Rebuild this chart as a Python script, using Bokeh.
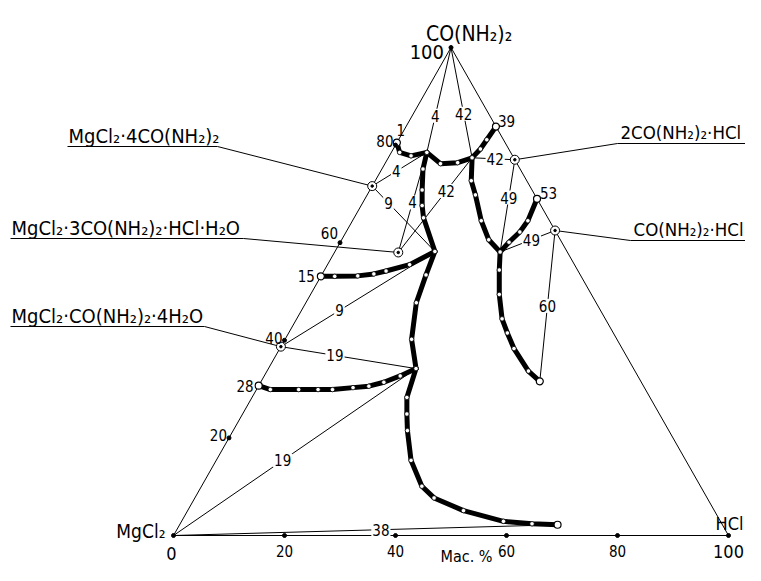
from bokeh.plotting import figure
from bokeh.models import Range1d
from bokeh.embed import file_html
from bokeh.resources import INLINE
from bokeh.core.properties import value

# ------------------------------------------------------------------
# DATA  (composition, mass %: HCl and CO(NH2)2; MgCl2 is the remainder)
# ------------------------------------------------------------------
tick_values = [20, 40, 60, 80]

# end / special points of the solubility branches
P1 = (0.0, 80.5)
P39 = (16.2, 83.8)
P15 = (0.0, 53.1)
P28 = (0.0, 30.7)
P53 = (31.0, 69.0)
P38 = (68.1, 2.2)
P60 = (50.2, 31.6)
# invariant (eutonic) points
E4 = (6.4, 78.5)
E42 = (15.1, 77.4)
E9 = (18.0, 58.2)
E19 = (26.6, 34.2)
E49 = (29.8, 58.1)

# solubility branches
br_1_4_hcl = [0.0, 1.5, 3.9, 6.4]
br_1_4_urea = [80.5, 78.5, 77.8, 78.5]
br_4_42_hcl = [6.4, 10.0, 13.0, 15.1]
br_4_42_urea = [78.5, 76.2, 76.4, 77.4]
br_42_39_hcl = [15.1, 15.7, 15.9, 16.2]
br_42_39_urea = [77.4, 79.2, 81.1, 83.8]
br_4_9_hcl = [6.4, 7.4, 9.4, 11.0, 12.5, 18.0]
br_4_9_urea = [78.5, 75.1, 70.8, 67.6, 65.1, 58.2]
br_15_9_hcl = [0.0, 2.5, 6.6, 9.3, 11.2, 14.8, 18.0]
br_15_9_urea = [53.1, 53.1, 53.2, 53.6, 54.2, 55.5, 58.2]
br_9_19_hcl = [18.0, 18.8, 19.9, 22.8, 26.6]
br_9_19_urea = [58.2, 53.4, 47.7, 40.2, 34.2]
br_28_19_hcl = [0.0, 2.5, 7.6, 11.1, 13.7, 17.2, 19.9, 22.2, 24.5, 26.6]
br_28_19_urea = [30.7, 29.9, 29.9, 29.9, 29.9, 30.3, 30.6, 31.4, 32.7, 34.2]
br_19_38_hcl = [26.6, 27.9, 29.6, 31.4, 35.1, 39.7, 43.1, 49.7, 58.0, 63.4, 68.1]
br_19_38_urea = [34.2, 28.3, 24.9, 21.5, 15.4, 10.1, 7.7, 5.1, 2.9, 2.4, 2.2]
br_42_49_hcl = [15.1, 17.3, 19.5, 23.2, 26.5, 29.8]
br_42_49_urea = [77.4, 72.7, 69.8, 64.5, 60.6, 58.1]
br_53_49_hcl = [31.0, 31.6, 31.3, 30.4, 29.8]
br_53_49_urea = [69.0, 64.5, 62.2, 60.1, 58.1]
br_49_60_hcl = [29.8, 31.5, 34.0, 37.0, 39.4, 42.2, 47.1, 50.2]
br_49_60_urea = [58.1, 54.4, 49.4, 44.4, 41.5, 38.3, 33.7, 31.6]

# solid phases (compounds)
cmp_names = ["MgCl₂·4CO(NH₂)₂", "MgCl₂·3CO(NH₂)₂·HCl·H₂O", "MgCl₂·CO(NH₂)₂·4H₂O",
             "2CO(NH₂)₂·HCl", "CO(NH₂)₂·HCl"]
cmp_keys = ["C4", "C3", "C1", "C21", "C11"]
cmp_hcl = [0.0, 11.5, 0.0, 23.0, 37.5]
cmp_urea = [71.6, 58.0, 38.7, 77.0, 62.5]

# tie lines (from, to, label)
tie_from = ["U", "U", "C4", "C4", "C3", "C3", "C1", "C1", "Mg", "Mg", "C21", "C21", "C11", "C11"]
tie_to = ["E4", "E42", "E4", "E9", "E4", "E42", "E9", "E19", "E19", "P38", "E42", "E49", "E49", "P60"]
tie_labels = ["4", "42", "4", "9", "4", "42", "9", "19", "19", "38", "42", "49", "49", "60"]

point_labels = ["1", "39", "15", "28", "53"]

# ------------------------------------------------------------------
# layout helpers
# ------------------------------------------------------------------
SX, SY = 5.55, 4.88          # pixels per % along x and along y
OX, OY = 173.0, 535.0        # picture position of the MgCl2 corner


def cart(h, u):
    return h + u / 2.0, u


def lay(px, py):
    return (px - OX) / SX, (OY - py) / SY


FONT = value("DejaVu Sans Condensed")

W, H = 745, 565
x0, _ = lay(0, 0)
x1, _ = lay(W, 0)
_, y1 = lay(0, 0)
_, y0 = lay(0, H)

p = figure(width=W, height=H, x_range=Range1d(x0, x1), y_range=Range1d(y0, y1),
           output_backend="svg", toolbar_location=None, min_border=0,
           x_axis_type=None, y_axis_type=None)
p.grid.visible = False
p.outline_line_color = None
p.background_fill_color = "white"
p.border_fill_color = "white"

pts = {"U": (0.0, 100.0), "Mg": (0.0, 0.0), "HCl": (100.0, 0.0),
       "E4": E4, "E42": E42, "E9": E9, "E19": E19, "E49": E49,
       "P38": P38, "P60": P60}
for k, h, u in zip(cmp_keys, cmp_hcl, cmp_urea):
    pts[k] = (h, u)

# triangle
tri = [pts["Mg"], pts["HCl"], pts["U"], pts["Mg"]]
p.line([cart(*q)[0] for q in tri], [cart(*q)[1] for q in tri], line_color="black", line_width=1)

# tie lines
tie_pos = [0.65, 0.6, 0.44, 0.26, 0.5, 0.65, 0.38, 0.4, 0.45, 0.54, 0.46, 0.41, 0.43, 0.5]
tx0, ty0, tx1, ty1, lx, ly = [], [], [], [], [], []
for a, b, t in zip(tie_from, tie_to, tie_pos):
    ax, ay = cart(*pts[a])
    bx, by = cart(*pts[b])
    tx0.append(ax); ty0.append(ay); tx1.append(bx); ty1.append(by)
    lx.append(ax + (bx - ax) * t); ly.append(ay + (by - ay) * t)
p.segment(tx0, ty0, tx1, ty1, line_color="black", line_width=1)

# leader lines and underlines of the compound names
leader_start = [(217, 146), (243, 238), (204, 326), (617, 143), (630, 240)]
under_end = [(67, 146), (10, 238), (10, 326), (745, 143), (745, 240)]
lxs0, lys0, lxs1, lys1 = [], [], [], []
for k, s, e in zip(cmp_keys, leader_start, under_end):
    sx, sy = lay(*s)
    ex, ey = lay(*e)
    cx, cy = cart(*pts[k])
    lxs0 += [sx, sx]; lys0 += [sy, sy]; lxs1 += [cx, ex]; lys1 += [cy, ey]
p.segment(lxs0, lys0, lxs1, lys1, line_color="black", line_width=1)

# solubility branches
branches = [(br_1_4_hcl, br_1_4_urea), (br_4_42_hcl, br_4_42_urea), (br_42_39_hcl, br_42_39_urea),
            (br_4_9_hcl, br_4_9_urea), (br_15_9_hcl, br_15_9_urea), (br_9_19_hcl, br_9_19_urea),
            (br_28_19_hcl, br_28_19_urea), (br_19_38_hcl, br_19_38_urea), (br_42_49_hcl, br_42_49_urea),
            (br_53_49_hcl, br_53_49_urea), (br_49_60_hcl, br_49_60_urea)]
mx, my = [], []
for hs, us in branches:
    xs = [cart(h, u)[0] for h, u in zip(hs, us)]
    ys = [cart(h, u)[1] for h, u in zip(hs, us)]
    p.line(xs, ys, line_color="black", line_width=5, line_join="round", line_cap="round")
    mx += xs[1:-1]; my += ys[1:-1]
p.scatter(mx, my, size=4.5, marker="circle", fill_color="white", line_color="black", line_width=0.8)

junc = [E4, E42, E9, E19, E49]
p.scatter([cart(*q)[0] for q in junc], [cart(*q)[1] for q in junc], size=4.5,
          fill_color="white", line_color="black", line_width=0.8)

ends = [P1, P39, P15, P28, P53, P38, P60]
p.scatter([cart(*q)[0] for q in ends], [cart(*q)[1] for q in ends], size=7,
          fill_color="white", line_color="black", line_width=1.2)

# compounds
cxs = [cart(h, u)[0] for h, u in zip(cmp_hcl, cmp_urea)]
cys = [cart(h, u)[1] for h, u in zip(cmp_hcl, cmp_urea)]
p.scatter(cxs, cys, size=9, fill_color="white", line_color="black", line_width=1)
p.scatter(cxs, cys, size=2.5, fill_color="black", line_color="black")

# ticks on the bottom edge (HCl) and on the left edge (CO(NH2)2)
bx = [cart(v, 0)[0] for v in tick_values]
by = [cart(v, 0)[1] for v in tick_values]
lxt = [cart(0, v)[0] for v in tick_values]
lyt = [cart(0, v)[1] for v in tick_values]
vx = [cart(*pts[k])[0] for k in ("Mg", "HCl", "U")]
vy = [cart(*pts[k])[1] for k in ("Mg", "HCl", "U")]
p.scatter(bx + lxt + vx, by + lyt + vy, size=4, fill_color="black", line_color="black")

# labels on tie lines
p.text(lx, ly, text=tie_labels, text_font=FONT, text_font_size="15px", text_align="center",
       text_baseline="middle", background_fill_color="white", padding=1)

# point labels
pl_pts = [P1, P39, P15, P28, P53]
pl_dx = [4, 2, -6, -5, 3]
pl_dy = [-13, -6, 0, 0, -6]
pl_align = ["center", "left", "right", "right", "left"]
for lab, q, dx, dy, al in zip(point_labels, pl_pts, pl_dx, pl_dy, pl_align):
    x, y = cart(*q)
    p.text([x], [y], text=[lab], text_font=FONT, text_font_size="15px", text_align=al,
           text_baseline="middle", x_offset=dx, y_offset=dy)

# axis tick labels
p.text(bx, by, text=[str(v) for v in tick_values], text_font=FONT, text_font_size="15px",
       text_align="center", text_baseline="middle", y_offset=15)
left_dy = [-3, -2, -10, -4]
for x, y, v, dy in zip(lxt, lyt, tick_values, left_dy):
    p.text([x], [y], text=[str(v)], text_font=FONT, text_font_size="15px",
           text_align="right", text_baseline="middle", x_offset=-2, y_offset=dy)

# corner labels
mgx, mgy = cart(*pts["Mg"])
hx, hy = cart(*pts["HCl"])
ux, uy = cart(*pts["U"])
p.text([mgx], [mgy], text=["0"], text_font=FONT, text_font_size="18px", text_align="center",
       text_baseline="middle", x_offset=-2, y_offset=18)
p.text([hx], [hy], text=["100"], text_font=FONT, text_font_size="18px", text_align="center",
       text_baseline="middle", x_offset=0, y_offset=16)
p.text([ux], [uy], text=["100"], text_font=FONT, text_font_size="20px", text_align="right",
       text_baseline="middle", x_offset=-7, y_offset=4)
p.text([mgx], [mgy], text=["MgCl₂"], text_font=FONT, text_font_size="19px", text_align="right",
       text_baseline="alphabetic", x_offset=-8, y_offset=-5)
p.text([hx], [hy], text=["HCl"], text_font=FONT, text_font_size="18px", text_align="right",
       text_baseline="alphabetic", x_offset=15, y_offset=-12)
p.text([ux], [uy], text=["CO(NH₂)₂"], text_font=FONT, text_font_size="21px", text_align="left",
       text_baseline="alphabetic", x_offset=-25, y_offset=-14)

# axis title
tx_, ty_ = lay(466, 556)
p.text([tx_], [ty_], text=["Мас. %"], text_font=FONT, text_font_size="16px", text_align="center",
       text_baseline="middle")

# compound names
name_x = [e[0] + 1 for e in under_end[:3]] + [620, 633]
name_y = [146, 238, 326, 143, 240]
name_size = ["20px", "20px", "20px", "18.5px", "18.5px"]
for x, y, s, t in zip(name_x, name_y, name_size, cmp_names):
    nx, ny = lay(x, y - 11)
    p.text([nx], [ny], text=[t], text_font=FONT, text_font_size=s, text_align="left",
           text_baseline="alphabetic")

open("out.html", "w").write(file_html(p, INLINE))
